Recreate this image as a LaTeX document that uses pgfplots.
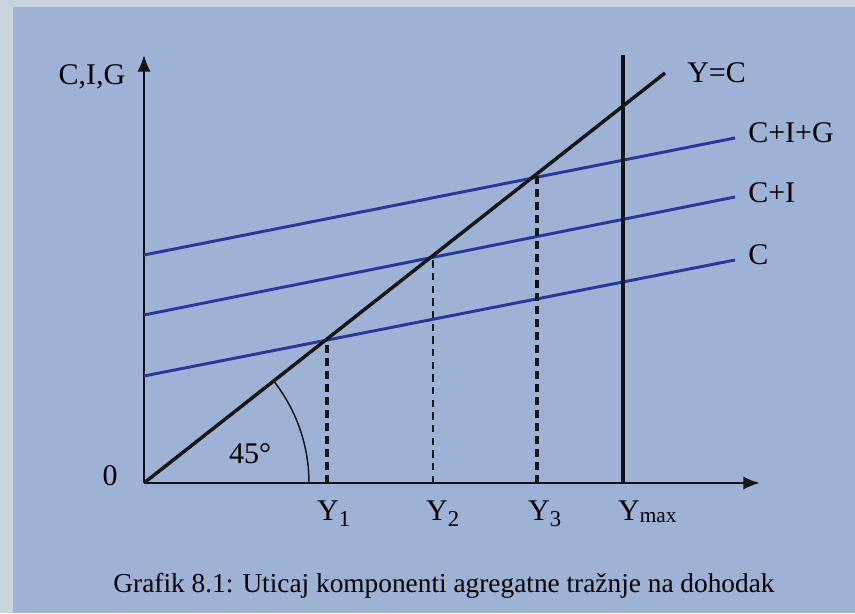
\documentclass[border=0pt]{standalone}
\usepackage{pgfplots}
\pgfplotsset{compat=1.18}
\usetikzlibrary{arrows.meta}
\usepackage{fontspec}
\setmainfont{Liberation Serif}
\definecolor{outergrey}{HTML}{C8D3DA}
\definecolor{innerblue}{HTML}{9EB2D5}
\definecolor{lineblue}{HTML}{26389A}
\definecolor{ink}{HTML}{151515}
\newcommand{\sub}[1]{\rlap{\raisebox{-5pt}{\fontsize{17}{20}\selectfont #1}}}
\newcommand{\submax}{\rlap{\raisebox{-1.5pt}{\fontsize{16}{19}\selectfont max}}}
\begin{document}
\begin{tikzpicture}
\begin{axis}[
  set layers,
  x=0.75pt, y=0.75pt,
  xmin=0, xmax=616, ymin=0, ymax=428,
  axis lines=left,
  clip=false,
  xtick=\empty, ytick=\empty,
  x axis line style={line width=2pt, ink, -{Latex[length=12.5pt,width=10pt]}},
  y axis line style={line width=1.5pt, ink, -{Latex[length=12.5pt,width=10pt]}},
  every node/.style={text=ink},
]
\begin{pgfonlayer}{axis background}
  \fill[outergrey] (axis cs:-144,-130) rectangle (axis cs:711,483);
  \fill[innerblue] (axis cs:-131,-130) rectangle (axis cs:711,476);
\end{pgfonlayer}

% consumption / demand lines
\addplot[lineblue, line width=2.2pt] coordinates {(0,107) (591,223)};
\addplot[lineblue, line width=2.2pt] coordinates {(0,168) (591,286)};
\addplot[lineblue, line width=2.2pt] coordinates {(0,228) (591,345)};
% 45 degree line
\addplot[ink, line width=2.6pt] coordinates {(0,0) (521,410)};
% Ymax
\addplot[ink, line width=3.4pt] coordinates {(479,0) (479,428)};
% equilibrium drop lines
\addplot[ink, line width=2.6pt, dash pattern=on 6pt off 3.75pt] coordinates {(183,0) (183,144)};
\addplot[ink, line width=1.4pt, dash pattern=on 5.5pt off 4pt] coordinates {(289,0) (289,227)};
\addplot[ink, line width=2.6pt, dash pattern=on 6pt off 3.75pt] coordinates {(393,0) (393,309)};

% angle arc
\draw[ink, line width=1.1pt] (axis cs:165,0) arc[start angle=0, end angle=38.2, radius=123.75pt];

\begin{scope}[every node/.append style={font=\fontsize{22.5}{27}\selectfont, inner sep=0pt}]
  \node[anchor=base] at (axis cs:106,20) {45°};
  \node[anchor=base] at (axis cs:-34,-2) {0};
  \node[anchor=base] at (axis cs:-52,398) {C,I,G};
  \node[anchor=base] at (axis cs:184,-37) {Y\sub{1}};
  \node[anchor=base] at (axis cs:293,-37) {Y\sub{2}};
  \node[anchor=base] at (axis cs:395,-37) {Y\sub{3}};
  \node[anchor=base] at (axis cs:485,-37) {Y\submax};
  \node[anchor=base west] at (axis cs:543,400) {Y=C};
  \node[anchor=base west] at (axis cs:604,340) {C+I+G};
  \node[anchor=base west] at (axis cs:604,280) {C+I};
  \node[anchor=base west] at (axis cs:604,218) {C};
\end{scope}
\node[anchor=base, inner sep=0pt, font=\fontsize{20.5}{24}\selectfont] at (axis cs:300,-109)
  {Grafik 8.1: Uticaj komponenti agregatne tražnje na dohodak};
\end{axis}
\end{tikzpicture}
\end{document}
